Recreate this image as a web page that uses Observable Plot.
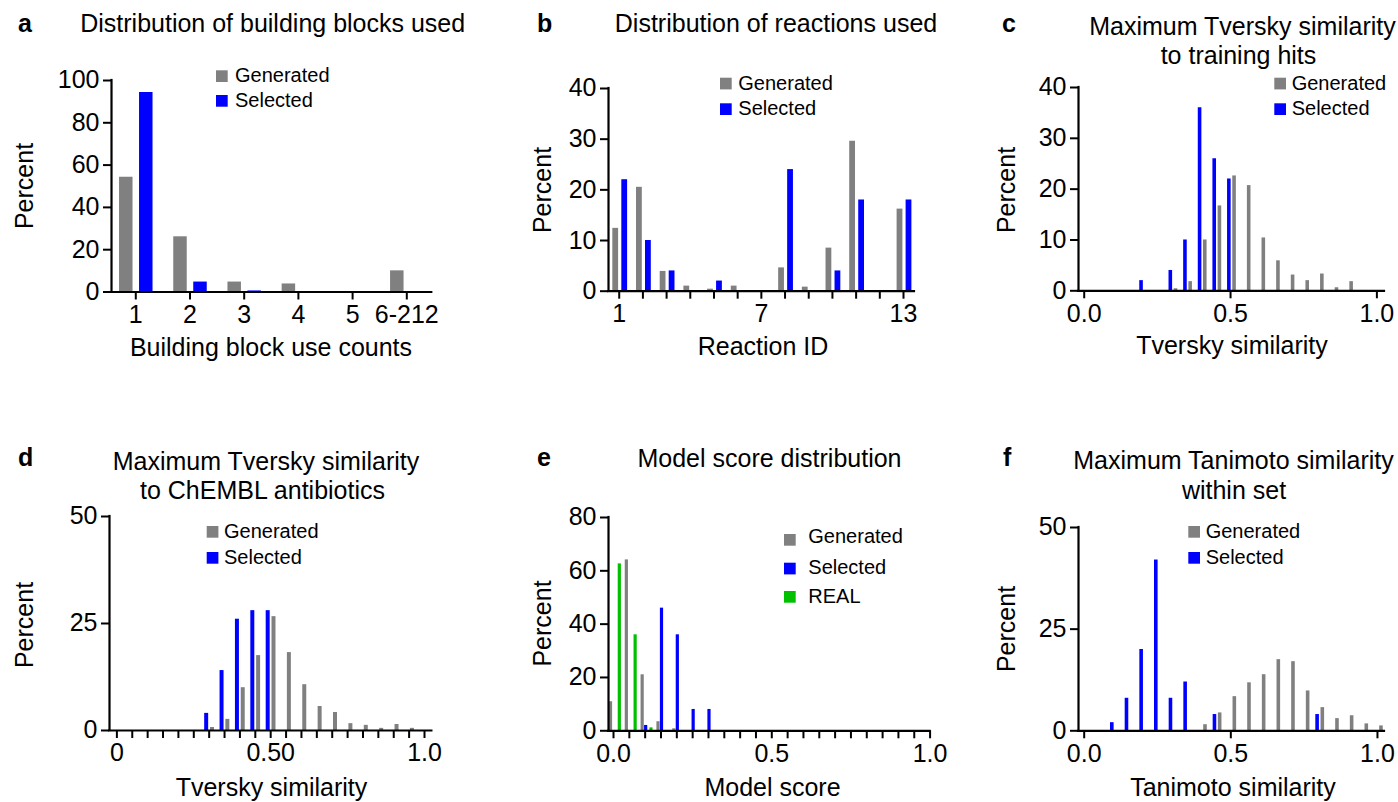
<!DOCTYPE html>
<html><head><meta charset="utf-8">
<script src="https://cdn.jsdelivr.net/npm/d3@7"></script>
<script src="https://cdn.jsdelivr.net/npm/@observablehq/plot@0.6"></script>
<style>
body{margin:0;background:#fff;}
#fig{position:relative;width:1398px;height:802px;overflow:hidden;background:#fff;font-family:"Liberation Sans",Arial,sans-serif;}
#fig svg{position:absolute;overflow:visible;}
</style></head><body><div id="fig"></div>
<script>
// ---------------- DATA ----------------
// a: building block use counts
const bbCategories = ["1", "2", "3", "4", "5", "6-212"];
const bbGenerated = [54.3, 26.1, 4.7, 3.8, 0, 10.0];
const bbSelected = [94.3, 4.7, 0.5, 0, 0, 0];

// b: reactions
const rxnIds = [1, 2, 3, 4, 5, 6, 7, 8, 9, 10, 11, 12, 13];
const rxnLabeled = [1, 7, 13];
const rxnGenerated = [12.4, 20.5, 3.9, 1.0, 0.4, 1.0, 0, 4.6, 0.8, 8.5, 29.6, 0, 16.2];
const rxnSelected = [22, 10, 4, 0, 2, 0, 0, 24, 0, 4, 18, 0, 18];

// shared histogram bins (c–f)
const simBins = [0.00, 0.05, 0.10, 0.15, 0.20, 0.25, 0.30, 0.35, 0.40, 0.45, 0.50,
                 0.55, 0.60, 0.65, 0.70, 0.75, 0.80, 0.85, 0.90, 0.95, 1.00];

// c: max Tversky similarity to training hits
const tvHitsGenerated = [0, 0, 0, 0, 0, 0, 0.4, 1.8, 10, 16.7, 22.6, 20.7, 10.4, 5.9, 3.1, 2.0, 3.3, 0.6, 1.8, 0, 0];
const tvHitsSelected  = [0, 0, 0, 0, 2, 0, 4, 10, 36, 26, 22, 0, 0, 0, 0, 0, 0, 0, 0, 0, 0];

// d: max Tversky similarity to ChEMBL antibiotics
const tvAbxGenerated = [0, 0, 0, 0, 0, 0, 0.7, 2.6, 10, 17.5, 26.6, 18.2, 10.7, 5.6, 4.2, 1.6, 1.2, 0.5, 1.4, 0.5, 0];
const tvAbxSelected  = [0, 0, 0, 0, 0, 0, 4, 14, 26, 28, 28, 0, 0, 0, 0, 0, 0, 0, 0, 0, 0];

// e: model score
const scoreGenerated = [10.9, 64.1, 21, 3.4, 0.75, 0, 0, 0, 0, 0, 0, 0, 0, 0, 0, 0, 0, 0, 0, 0, 0];
const scoreSelected  = [0, 0, 2, 46, 36, 8, 8, 0, 0, 0, 0, 0, 0, 0, 0, 0, 0, 0, 0, 0, 0];
const scoreReal      = [62.6, 36, 1.1, 0, 0, 0, 0, 0, 0, 0, 0, 0, 0, 0, 0, 0, 0, 0, 0, 0, 0];

// f: max Tanimoto similarity within set
const tanGenerated = [0, 0, 0, 0, 0, 0, 0, 0, 1.5, 4.4, 8.4, 11.8, 13.8, 17.5, 17, 9.8, 5.7, 3.0, 3.7, 1.7, 1.2];
const tanSelected  = [0, 0, 2, 8, 20, 42, 8, 12, 0, 4, 0, 0, 0, 0, 0, 0, 4, 0, 0, 0, 0];

// ---------------- STYLE ----------------
const FONT = '"Liberation Sans", Arial, Helvetica, sans-serif';
const GRAY = "#808080", BLUE = "#0000ff", GREEN = "#00c000";
const fig = document.getElementById("fig");

function drawPanel(p) {
  const mL = 80, mR = 24, mT = 20, mB = 50;
  const barMarks = p.series.map(s =>
    Plot.ruleX(
      p.x.map((x, i) => ({x, v: s.values[i]})).filter(d => d.v > 0),
      {x: "x", y1: 0, y2: "v", stroke: s.color, strokeWidth: s.width, dx: s.dx}
    )
  );
  const chart = Plot.plot({
    width: p.xRight - p.yAxisX + mL + mR,
    height: p.y0 - p.yTop + mT + mB,
    marginLeft: mL, marginRight: mR, marginTop: mT, marginBottom: mB,
    style: {fontFamily: FONT, fontSize: "25px", color: "#000", background: "transparent", overflow: "visible"},
    x: {type: "linear", domain: p.xDomain},
    y: {type: "linear", domain: [0, p.yMax]},
    marks: [
      ...barMarks,
      Plot.ruleY([0], {stroke: "#000", strokeWidth: 2.2, strokeLinecap: "square"}),
      Plot.ruleX([p.xDomain[0]], {stroke: "#000", strokeWidth: 2.2, strokeLinecap: "square"}),
      Plot.axisX({ticks: p.xTicks, tickFormat: p.xFmt, tickSize: 8, tickPadding: 5, strokeWidth: 2, fontSize: 25, label: null}),
      Plot.axisY({ticks: p.yTicks, tickFormat: d => String(d), tickSize: 8, tickPadding: 4, strokeWidth: 2, fontSize: 25, label: null})
    ]
  });
  chart.style.left = (p.yAxisX - mL) + "px";
  chart.style.top = (p.yTop - mT) + "px";
  fig.appendChild(chart);
}

const fmt1 = d3.format(".1f");

drawPanel({
  yAxisX: 110.7, xRight: 431, y0: 291, yTop: 79.5, xDomain: [0.552, 6.461], yMax: 100,
  x: bbCategories.map((c, i) => i + 1),
  xTicks: bbCategories.map((c, i) => i + 1), xFmt: d => bbCategories[d - 1],
  yTicks: [0, 20, 40, 60, 80, 100],
  series: [
    {values: bbGenerated, color: GRAY, dx: -10, width: 13.5},
    {values: bbSelected, color: BLUE, dx: 10, width: 13.5}
  ]
});

drawPanel({
  yAxisX: 608.3, xRight: 914.3, y0: 291, yTop: 88.3, xDomain: [0.548, 13.464], yMax: 40,
  x: rxnIds, xTicks: rxnIds, xFmt: d => rxnLabeled.includes(d) ? String(d) : "",
  yTicks: [0, 10, 20, 30, 40],
  series: [
    {values: rxnGenerated, color: GRAY, dx: -4, width: 5.8},
    {values: rxnSelected, color: BLUE, dx: 5, width: 5.8}
  ]
});

drawPanel({
  yAxisX: 1078.3, xRight: 1384.3, y0: 290, yTop: 86.7, xDomain: [-0.0195, 1.026], yMax: 40,
  x: simBins, xTicks: [0, 0.5, 1], xFmt: fmt1,
  yTicks: [0, 10, 20, 30, 40],
  series: [
    {values: tvHitsSelected, color: BLUE, dx: -1.7, width: 3.6},
    {values: tvHitsGenerated, color: GRAY, dx: 3.5, width: 3.6}
  ]
});

drawPanel({
  yAxisX: 109.3, xRight: 431.7, y0: 730, yTop: 516, xDomain: [-0.024, 1.024], yMax: 50,
  x: simBins, xTicks: simBins, xFmt: d => d === 0 ? "0" : d === 0.5 ? "0.50" : d === 1 ? "1.0" : "",
  yTicks: [0, 25, 50],
  series: [
    {values: tvAbxSelected, color: BLUE, dx: -3, width: 4},
    {values: tvAbxGenerated, color: GRAY, dx: 2.8, width: 4}
  ]
});

drawPanel({
  yAxisX: 607.7, xRight: 929.3, y0: 730, yTop: 516.7, xDomain: [-0.0158, 1.0], yMax: 80,
  x: simBins, xTicks: simBins, xFmt: d => (d === 0 || d === 0.5 || d === 1) ? fmt1(d) : "",
  yTicks: [0, 20, 40, 60, 80],
  series: [
    {values: scoreGenerated, color: GRAY, dx: -3, width: 3.2},
    {values: scoreSelected, color: BLUE, dx: 0.5, width: 3.2},
    {values: scoreReal, color: GREEN, dx: 5.8, width: 3.2}
  ]
});

drawPanel({
  yAxisX: 1078.3, xRight: 1384.3, y0: 730, yTop: 526.7, xDomain: [-0.0194, 1.024], yMax: 50,
  x: simBins, xTicks: [0, 0.5, 1], xFmt: fmt1,
  yTicks: [0, 25, 50],
  series: [
    {values: tanSelected, color: BLUE, dx: -1.7, width: 3.6},
    {values: tanGenerated, color: GRAY, dx: 3.5, width: 3.6}
  ]
});

// ---------------- TEXT OVERLAY ----------------
const ov = d3.select(fig).append("svg")
  .attr("width", 1398).attr("height", 802)
  .style("left", "0px").style("top", "0px")
  .style("font-family", FONT);

const letters = [["a", 18, 32.3], ["b", 537, 32.3], ["c", 1002, 31.7], ["d", 18, 465.7], ["e", 537, 465.7], ["f", 1003, 465.7]];
letters.forEach(([t, x, y]) => ov.append("text").attr("x", x).attr("y", y)
  .attr("font-size", 25).attr("font-weight", "bold").text(t));

const titles = [
  ["Distribution of building blocks used", 272.7, 32.3],
  ["Distribution of reactions used", 776, 32.3],
  ["Maximum Tversky similarity", 1242.5, 35],
  ["to training hits", 1238.5, 64.3],
  ["Maximum Tversky similarity", 266, 470],
  ["to ChEMBL antibiotics", 262.5, 499],
  ["Model score distribution", 769.5, 466.7],
  ["Maximum Tanimoto similarity", 1233.5, 469.3],
  ["within set", 1234, 499],
  ["Building block use counts", 271, 356],
  ["Reaction ID", 763, 355],
  ["Tversky similarity", 1232, 354],
  ["Tversky similarity", 271.5, 796],
  ["Model score", 772.5, 796],
  ["Tanimoto similarity", 1233, 796]
];
titles.forEach(([t, x, y]) => ov.append("text").attr("x", x).attr("y", y)
  .attr("font-size", 25).attr("text-anchor", "middle").text(t));

const ylabels = [[33.3, 186], [551, 190], [1015, 190], [33.3, 625], [551, 623.5], [1015, 629]];
ylabels.forEach(([x, y]) => ov.append("text")
  .attr("transform", `translate(${x},${y}) rotate(-90)`)
  .attr("font-size", 25).attr("text-anchor", "middle").text("Percent"));

const legends = [
  {sx: 216, tx: 235, rows: [[70.3, 82.3], [95, 106.7]], items: [["Generated", GRAY], ["Selected", BLUE]]},
  {sx: 720, tx: 738.3, rows: [[77.7, 89.5], [103.3, 115]], items: [["Generated", GRAY], ["Selected", BLUE]]},
  {sx: 1274.3, tx: 1291.7, rows: [[77.7, 89.5], [103.3, 115]], items: [["Generated", GRAY], ["Selected", BLUE]]},
  {sx: 206.7, tx: 224, rows: [[526, 538], [552, 564]], items: [["Generated", GRAY], ["Selected", BLUE]]},
  {sx: 784, tx: 808.3, rows: [[534, 543.3], [562.7, 573.7], [591, 603.3]], items: [["Generated", GRAY], ["Selected", BLUE], ["REAL", GREEN]]},
  {sx: 1188.3, tx: 1205.7, rows: [[526, 538], [552, 564]], items: [["Generated", GRAY], ["Selected", BLUE]]}
];
legends.forEach(lg => lg.items.forEach(([label, color], i) => {
  const [sy, ty] = lg.rows[i];
  ov.append("rect").attr("x", lg.sx).attr("y", sy).attr("width", 11.7).attr("height", 11.7).attr("fill", color);
  ov.append("text").attr("x", lg.tx).attr("y", ty).attr("font-size", 20).text(label);
}));
</script>
</body></html>
